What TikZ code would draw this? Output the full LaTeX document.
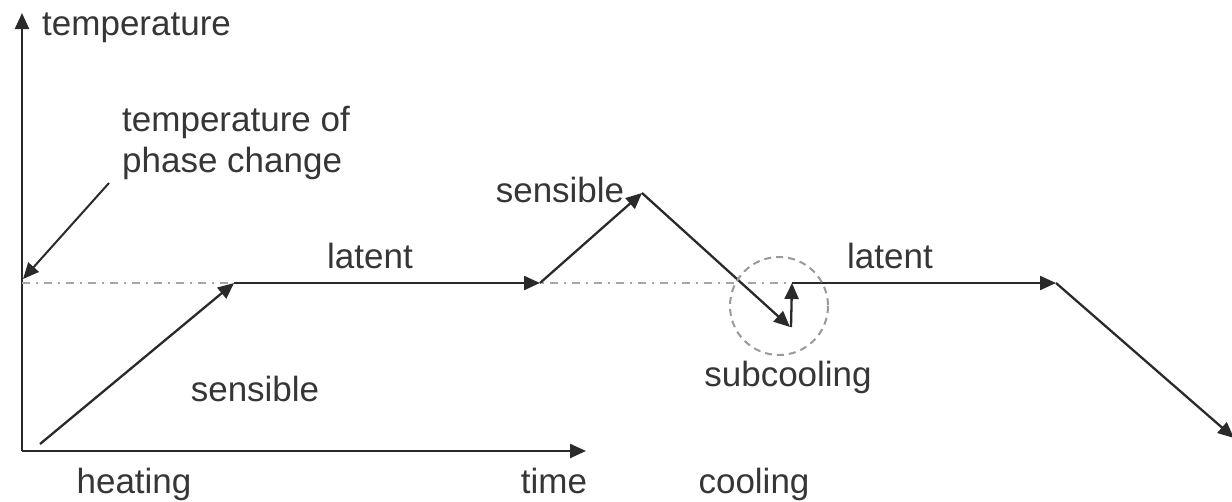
\documentclass[tikz,border=0pt]{standalone}
\usepackage{fontspec}
\setmainfont{Liberation Sans}
\usetikzlibrary{arrows.meta}
\definecolor{ink}{HTML}{2A2A2A}
\definecolor{txt}{HTML}{363636}
\begin{document}
\begin{tikzpicture}[x=1pt,y=-1pt,
  ln/.style={draw=ink,line width=2.3pt},
  arr/.style={ln,-{Triangle[length=16pt,width=14pt]}},
  lbl/.style={text=txt,font=\fontsize{35}{41}\selectfont,inner sep=0pt},
  phase/.style={draw=gray!70,line width=2pt,dash pattern=on 8pt off 6pt on 2pt off 6pt},
  circ/.style={draw=gray!80,line width=2pt,dash pattern=on 7pt off 5pt}]
\useasboundingbox (0,0) rectangle (1232,501);
% axes
\coordinate (O) at (22,451);
\coordinate (Ytop) at (22,13);
\coordinate (Xend) at (586,451);
\draw[arr] (O) -- (Ytop);
\draw[arr] (O) -- (Xend);
% phase change line
\coordinate (P0) at (22,283);
\coordinate (P1) at (800,283);
\draw[phase] (P0) -- (P1);
% curve points
\coordinate (A) at (40,444);
\coordinate (B) at (234,283);
\coordinate (C) at (540,283);
\coordinate (D) at (642,193);
\coordinate (E) at (790,327);
\coordinate (F) at (792,283);
\coordinate (G) at (1056,283);
\coordinate (H) at (1234,438);
\draw[arr] (A) -- (B);
\draw[arr] (B) -- (C);
\draw[arr] (C) -- (D);
\draw[arr] (D) -- (E);
\draw[arr] ([xshift=1pt]E) -- (F);
\draw[arr] (F) -- (G);
\draw[arr] (G) -- (H);
% subcooling circle
\coordinate (SC) at (779,306);
\draw[circ] (SC) circle (49);
% annotation arrow
\coordinate (N1) at (109,183);
\coordinate (N2) at (23,279);
\draw[arr,line width=2pt] (N1) -- (N2);
% labels
\node[lbl,anchor=base west] (ylab) at (42,35) {temperature};
\node[lbl,anchor=base west] (tpc1) at (122,131) {temperature of};
\node[lbl,anchor=base west] (tpc2) at (122,172) {phase change};
\node[lbl,anchor=base] (lat1) at (370,268) {latent};
\node[lbl,anchor=base] (sen2) at (560,202) {sensible};
\node[lbl,anchor=base] (lat2) at (890,268) {latent};
\node[lbl,anchor=base] (sub) at (788,386) {subcooling};
\node[lbl,anchor=base] (sen1) at (255,401) {sensible};
\node[lbl,anchor=base] (heat) at (134,493) {heating};
\node[lbl,anchor=base] (time) at (554,493) {time};
\node[lbl,anchor=base] (cool) at (754,493) {cooling};
\end{tikzpicture}
\end{document}
